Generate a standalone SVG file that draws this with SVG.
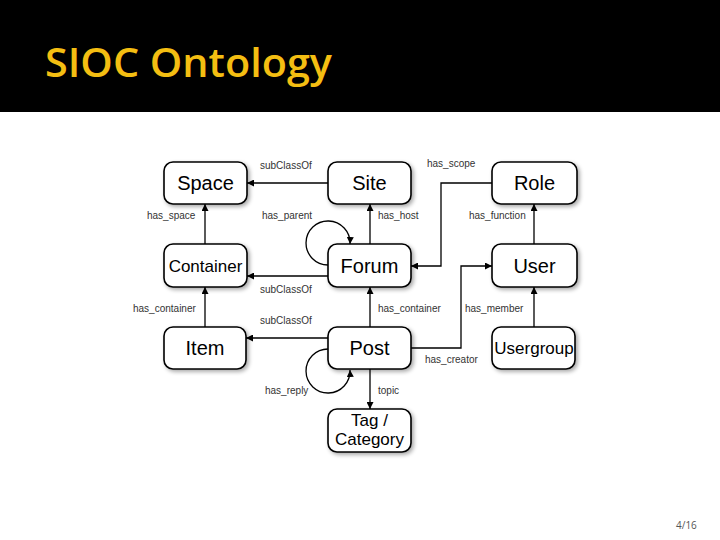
<svg xmlns="http://www.w3.org/2000/svg" width="720" height="540" viewBox="0 0 720 540">
<style>
.node rect{fill:#fff;stroke:#000;stroke-width:1.6}
.node text{font-family:"Liberation Sans",Arial,sans-serif;font-size:20px;fill:#000;text-anchor:middle}
.edge{fill:none;stroke:#000;stroke-width:1.3}
.lbl{font-family:"Liberation Sans",Arial,sans-serif;font-size:10px;fill:#333}
</style>
<defs>
<marker id="ah" viewBox="0 0 10 10" refX="10" refY="5" markerWidth="7" markerHeight="7" markerUnits="userSpaceOnUse" orient="auto">
<path d="M0,0 L10,5 L0,10 z" fill="#000"/>
</marker>
<filter id="sh" x="-20%" y="-20%" width="150%" height="160%">
<feGaussianBlur in="SourceAlpha" stdDeviation="2"/>
<feOffset dx="1.5" dy="2" result="b"/>
<feComponentTransfer><feFuncA type="linear" slope="0.35"/></feComponentTransfer>
<feMerge><feMergeNode/><feMergeNode in="SourceGraphic"/></feMerge>
</filter>
</defs>
<rect x="0" y="0" width="720" height="540" fill="#fff"/>
<rect x="0" y="0" width="720" height="112" fill="#000"/>
<text x="45" y="77" font-family="'Open Sans','Noto Sans',sans-serif" font-size="39" font-weight="600" fill="#F4BE12" textLength="287" lengthAdjust="spacingAndGlyphs">SIOC Ontology</text>
<text x="676" y="529" font-family="'Open Sans','Noto Sans',sans-serif" font-size="10" fill="#555">4/16</text>

<g id="connectors">
<path class="edge" d="M328,183 H247" marker-end="url(#ah)"/>
<path class="edge" d="M328,276 H247" marker-end="url(#ah)"/>
<path class="edge" d="M328,338 H246" marker-end="url(#ah)"/>
<path class="edge" d="M205,244 V204" marker-end="url(#ah)"/>
<path class="edge" d="M205,327 V287" marker-end="url(#ah)"/>
<path class="edge" d="M370,244 V204" marker-end="url(#ah)"/>
<path class="edge" d="M370,327 V287" marker-end="url(#ah)"/>
<path class="edge" d="M370,369 V409" marker-end="url(#ah)"/>
<path class="edge" d="M534,244 V204" marker-end="url(#ah)"/>
<path class="edge" d="M534,327 V287" marker-end="url(#ah)"/>
<path class="edge" d="M492,183 H441 V266 H411" marker-end="url(#ah)"/>
<path class="edge" d="M411,348 H461 V266 H492" marker-end="url(#ah)"/>
<path class="edge" d="M328,265 A22,22 0 1 1 350,244" marker-end="url(#ah)"/>
<path class="edge" d="M328,349 A22,22 0 1 0 350,370" marker-end="url(#ah)"/>
<text class="lbl" x="260" y="169">subClassOf</text>
<text class="lbl" x="260" y="293">subClassOf</text>
<text class="lbl" x="260" y="324">subClassOf</text>
<text class="lbl" x="147" y="219">has_space</text>
<text class="lbl" x="262" y="219">has_parent</text>
<text class="lbl" x="378" y="219">has_host</text>
<text class="lbl" x="469" y="219">has_function</text>
<text class="lbl" x="427" y="167">has_scope</text>
<text class="lbl" x="133" y="312">has_container</text>
<text class="lbl" x="378" y="312">has_container</text>
<text class="lbl" x="465" y="312">has_member</text>
<text class="lbl" x="425" y="363">has_creator</text>
<text class="lbl" x="265" y="394">has_reply</text>
<text class="lbl" x="378" y="394">topic</text>
</g>

<g id="node-space" class="node"><rect x="164" y="162" width="83" height="42" rx="9" filter="url(#sh)"/><text x="205.5" y="190">Space</text></g>
<g id="node-site" class="node"><rect x="328" y="162" width="83" height="42" rx="9" filter="url(#sh)"/><text x="369.5" y="190">Site</text></g>
<g id="node-role" class="node"><rect x="492" y="162" width="85" height="42" rx="9" filter="url(#sh)"/><text x="534.5" y="190">Role</text></g>
<g id="node-container" class="node"><rect x="164" y="244" width="83" height="43" rx="9" filter="url(#sh)"/><text x="205.5" y="271.5" style="font-size:17px">Container</text></g>
<g id="node-forum" class="node"><rect x="328" y="244" width="83" height="43" rx="9" filter="url(#sh)"/><text x="369.5" y="272.5">Forum</text></g>
<g id="node-user" class="node"><rect x="492" y="244" width="85" height="43" rx="9" filter="url(#sh)"/><text x="534.5" y="272.5">User</text></g>
<g id="node-item" class="node"><rect x="164" y="327" width="82" height="42" rx="9" filter="url(#sh)"/><text x="205" y="355">Item</text></g>
<g id="node-post" class="node"><rect x="328" y="327" width="83" height="42" rx="9" filter="url(#sh)"/><text x="369.5" y="355">Post</text></g>
<g id="node-usergroup" class="node"><rect x="492" y="327" width="83" height="42" rx="9" filter="url(#sh)"/><text x="534" y="354" style="font-size:17px">Usergroup</text></g>
<g id="node-tag" class="node"><rect x="328" y="409" width="83" height="43" rx="9" filter="url(#sh)"/><text x="369.5" y="426" style="font-size:17px">Tag /</text><text x="369.5" y="445" style="font-size:17px">Category</text></g>
</svg>
